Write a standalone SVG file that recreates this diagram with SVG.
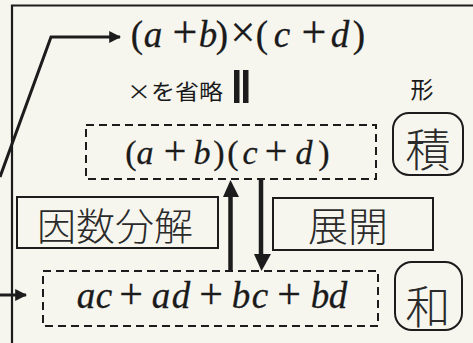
<svg xmlns="http://www.w3.org/2000/svg" width="473" height="343" viewBox="0 0 473 343">
<defs>
<style>
.frame{fill:none;stroke:#1c1c1c;stroke-width:2.2}
.dash{fill:none;stroke:#1c1c1c;stroke-width:2;stroke-dasharray:8 5}
.box{fill:none;stroke:#1c1c1c;stroke-width:2}
.conn{fill:none;stroke:#1c1c1c;stroke-width:3}
.m{font-family:"Liberation Serif","DejaVu Serif",serif;fill:#1a1a1a;text-anchor:middle;stroke:#1a1a1a;stroke-width:0.3}
.i{font-style:italic}
.jp{font-family:"Noto Sans CJK JP","Noto Sans",sans-serif;fill:#1a1a1a}
.hw{font-family:"Noto Sans CJK JP",sans-serif;fill:#2a2a2a;font-weight:300;text-anchor:middle}
</style>
<marker id="ah" viewBox="0 0 10 10" refX="9" refY="5" markerWidth="4" markerHeight="4" orient="auto" markerUnits="strokeWidth">
<path d="M0,0 L10,5 L0,10 z" fill="#1c1c1c"/>
</marker>
</defs>
<rect width="473" height="343" fill="#f6f6ef"/>
<path class="frame" d="M12,343 V5.5 H473"/>

<g id="top-expr">
<text class="m" font-size="37" y="47"><tspan x="137">(</tspan><tspan x="153" class="i">a</tspan><tspan x="185" font-size="44">+</tspan><tspan x="208" class="i">b</tspan><tspan x="222">)</tspan><tspan x="243" font-size="44">×</tspan><tspan x="262">(</tspan><tspan x="282" class="i">c</tspan><tspan x="314" font-size="44">+</tspan><tspan x="340" class="i">d</tspan><tspan x="359">)</tspan></text>
</g>

<g id="omit-note">
<text class="jp" x="127" y="99" font-size="21" textLength="96" lengthAdjust="spacingAndGlyphs">×を省略</text>
<rect x="234" y="70" width="5.5" height="33" fill="#1c1c1c"/>
<rect x="243" y="70" width="5.5" height="33" fill="#1c1c1c"/>
</g>

<g id="label-form">
<text class="jp" x="422" y="98" font-size="23" text-anchor="middle">形</text>
</g>

<g id="product">
<rect class="dash" x="86" y="125" width="290" height="54"/>
<text class="m" font-size="34" y="164"><tspan x="131">(</tspan><tspan x="145" class="i">a</tspan><tspan x="175" font-size="40">+</tspan><tspan x="202" class="i">b</tspan><tspan x="219">)</tspan><tspan x="233">(</tspan><tspan x="250" class="i">c</tspan><tspan x="276" font-size="40">+</tspan><tspan x="304" class="i">d</tspan><tspan x="324">)</tspan></text>
</g>

<g id="seki">
<rect class="box" x="393" y="113" width="70" height="62" rx="16"/>
<text class="hw" x="428" y="167" font-size="45">積</text>
</g>

<g id="factorize">
<rect class="box" x="17" y="197" width="201" height="51"/>
<text class="hw" x="115" y="240" font-size="38" textLength="156" lengthAdjust="spacingAndGlyphs">因数分解</text>
</g>

<g id="expand">
<rect class="box" x="273" y="198" width="160" height="52"/>
<text class="hw" x="348" y="241" font-size="40">展開</text>
</g>

<g id="sum">
<rect class="dash" x="43" y="271" width="335" height="55"/>
<text class="m" font-size="37" y="308"><tspan x="86" class="i">a</tspan><tspan x="104" class="i">c</tspan><tspan x="131" font-size="42">+</tspan><tspan x="161" class="i">a</tspan><tspan x="181" class="i">d</tspan><tspan x="211" font-size="42">+</tspan><tspan x="241" class="i">b</tspan><tspan x="260" class="i">c</tspan><tspan x="289" font-size="42">+</tspan><tspan x="320" class="i">b</tspan><tspan x="338" class="i">d</tspan></text>
</g>

<g id="wa">
<rect class="box" x="395" y="262" width="67" height="68" rx="17"/>
<text class="hw" x="428" y="324" font-size="45">和</text>
</g>

<g id="connectors">
<path class="conn" d="M0,177 L51,37 H120" marker-end="url(#ah)"/>
<path class="conn" d="M0,295 H26" marker-end="url(#ah)"/>
<path d="M230.5,270 V196" stroke="#1c1c1c" stroke-width="4.5" fill="none"/>
<path d="M223,197 L230.5,180 L239,197 z" fill="#1c1c1c"/>
<path d="M261,178 V255" stroke="#1c1c1c" stroke-width="4.5" fill="none"/>
<path d="M254,254 L261.5,271 L271,254 z" fill="#1c1c1c"/>
</g>
</svg>
